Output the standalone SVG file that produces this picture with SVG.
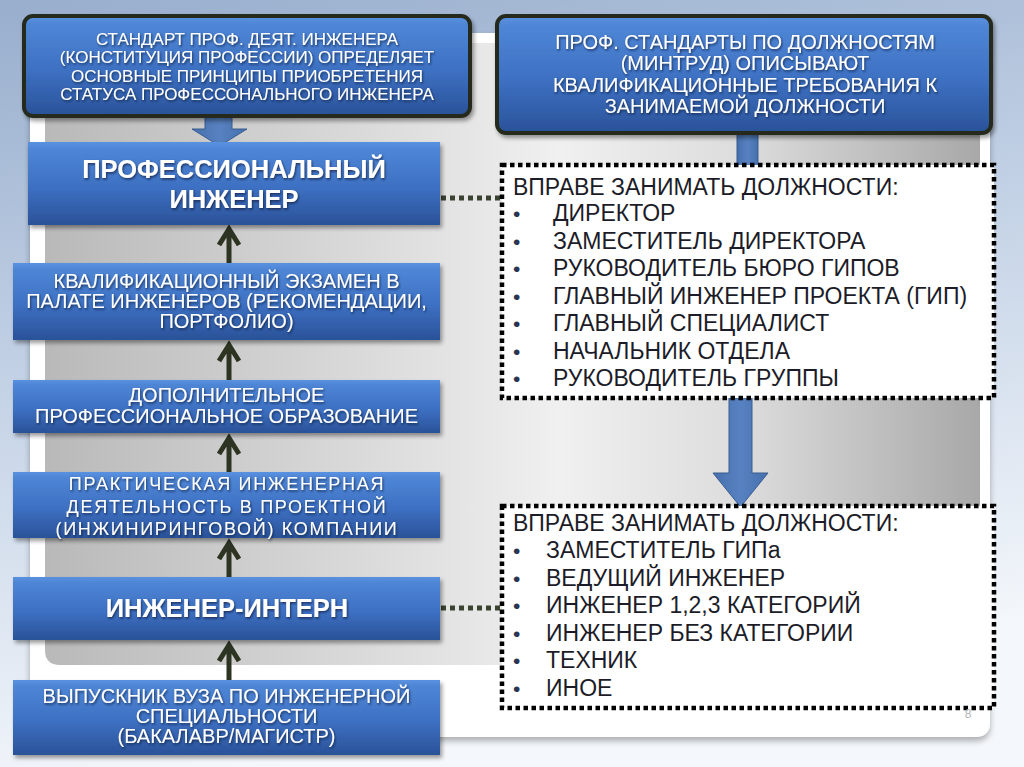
<svg xmlns="http://www.w3.org/2000/svg" width="1024" height="767" viewBox="0 0 1024 767">
<defs>
<linearGradient id="bg" x1="0" y1="0" x2="0.25" y2="1">
<stop offset="0" stop-color="#98aecd"/>
<stop offset="0.5" stop-color="#c6d4e7"/>
<stop offset="1" stop-color="#f4f7fb"/>
</linearGradient>
<linearGradient id="panel" x1="0" y1="0" x2="1" y2="0">
<stop offset="0" stop-color="#b9b9b9"/>
<stop offset="0.4" stop-color="#e0e0e0"/>
<stop offset="0.55" stop-color="#f0f0f0"/>
<stop offset="0.75" stop-color="#dcdcdc"/>
<stop offset="1" stop-color="#a8a8a8"/>
</linearGradient>
<linearGradient id="blue" x1="0" y1="0" x2="0" y2="1">
<stop offset="0" stop-color="#5a92e0"/>
<stop offset="0.08" stop-color="#4f86d6"/>
<stop offset="0.55" stop-color="#3d70c2"/>
<stop offset="1" stop-color="#2a5298"/>
</linearGradient>
<linearGradient id="arrowblue" x1="0" y1="0" x2="1" y2="0">
<stop offset="0" stop-color="#4670ad"/>
<stop offset="0.5" stop-color="#5781c0"/>
<stop offset="1" stop-color="#4670ad"/>
</linearGradient>
<filter id="sh" x="-10%" y="-10%" width="125%" height="135%">
<feDropShadow dx="2" dy="3" stdDeviation="2" flood-color="#000" flood-opacity="0.4"/>
</filter>
<filter id="tsh" x="-5%" y="-20%" width="110%" height="150%">
<feDropShadow dx="1" dy="1.5" stdDeviation="0.8" flood-color="#0a1a3a" flood-opacity="0.75"/>
</filter>
<filter id="cardsh" x="-5%" y="-5%" width="110%" height="110%">
<feDropShadow dx="0" dy="4" stdDeviation="3" flood-color="#000" flood-opacity="0.3"/>
</filter>
</defs>
<style>
.box{fill:url(#blue);filter:url(#sh)}
.bbox{fill:url(#blue);stroke:#262c1e;stroke-width:4;filter:url(#sh)}
.wt{font-family:"Liberation Sans",Arial,sans-serif;fill:#ffffff;text-anchor:middle;filter:url(#tsh)}
.b{font-weight:bold}
.dot{fill:#ffffff;stroke:#000000;stroke-width:4.5;stroke-dasharray:4.5 3.5}
.dt{font-family:"Liberation Sans",Arial,sans-serif;fill:#1c1c28;font-size:23px}
.bul{font-family:"Liberation Sans",Arial,sans-serif;fill:#2a3550;font-size:21px}
.up{fill:none;stroke:#2d3522;stroke-width:5}
.dl{fill:none;stroke:#3a4230;stroke-width:5;stroke-dasharray:5 4}
.ba{fill:url(#arrowblue);stroke:#3a5d92;stroke-width:1}
</style>
<rect x="0" y="0" width="1024" height="767" fill="url(#bg)"/>
<path d="M30,33 H990 V722 Q990,737 975,737 H30 Z" fill="#ffffff" filter="url(#cardsh)"/>
<path d="M45,43 H980 V665 H60 Q45,665 45,650 Z" fill="url(#panel)"/>

<g id="connectors">
<path class="ba" d="M205,117 H232 V129 H247 L219.5,146 L192,129 H205 Z"/>
<rect class="ba" x="737" y="134" width="21" height="32"/>
<path class="ba" d="M729,398 H752 V473 H768 L740.5,507 L713,473 H729 Z"/>
<path class="up" d="M229,263 V229 M219,245 L229,229 L239,245"/>
<path class="up" d="M229,380 V345 M219,361 L229,345 L239,361"/>
<path class="up" d="M229,472 V438 M219,454 L229,438 L239,454"/>
<path class="up" d="M229,577 V543 M219,559 L229,543 L239,559"/>
<path class="up" d="M229,680 V645 M219,661 L229,645 L239,661"/>
<path class="dl" d="M441,198 H502"/>
<path class="dl" d="M441,608 H502"/>
</g>

<g id="n-standard">
<rect class="bbox" x="24" y="16" width="446" height="100" rx="9"/>
<text class="wt" font-size="17" x="247" y="45">СТАНДАРТ ПРОФ. ДЕЯТ. ИНЖЕНЕРА</text>
<text class="wt" font-size="17" x="247" y="63">(КОНСТИТУЦИЯ ПРОФЕССИИ) ОПРЕДЕЛЯЕТ</text>
<text class="wt" font-size="17" x="247" y="82">ОСНОВНЫЕ ПРИНЦИПЫ ПРИОБРЕТЕНИЯ</text>
<text class="wt" font-size="17" x="247" y="100">СТАТУСА ПРОФЕССОНАЛЬНОГО ИНЖЕНЕРА</text>
</g>

<g id="n-profstandards">
<rect class="bbox" x="497" y="16" width="494" height="117" rx="9"/>
<text class="wt" font-size="20" x="745" y="49">ПРОФ. СТАНДАРТЫ ПО ДОЛЖНОСТЯМ</text>
<text class="wt" font-size="20" x="745" y="70">(МИНТРУД) ОПИСЫВАЮТ</text>
<text class="wt" font-size="20" x="745" y="92">КВАЛИФИКАЦИОННЫЕ ТРЕБОВАНИЯ К</text>
<text class="wt" font-size="20" x="745" y="113">ЗАНИМАЕМОЙ ДОЛЖНОСТИ</text>
</g>

<g id="n-prof-engineer">
<rect class="box" x="28" y="142" width="412" height="83"/>
<text class="wt b" font-size="25.5" x="234" y="178">ПРОФЕССИОНАЛЬНЫЙ</text>
<text class="wt b" font-size="25.5" x="234" y="208">ИНЖЕНЕР</text>
</g>

<g id="n-exam">
<rect class="box" x="13" y="263" width="427" height="77"/>
<text class="wt" font-size="20" x="226.5" y="288">КВАЛИФИКАЦИОННЫЙ ЭКЗАМЕН В</text>
<text class="wt" font-size="20" x="226.5" y="308">ПАЛАТЕ ИНЖЕНЕРОВ (РЕКОМЕНДАЦИИ,</text>
<text class="wt" font-size="20" x="226.5" y="328">ПОРТФОЛИО)</text>
</g>

<g id="n-additional">
<rect class="box" x="13" y="380" width="427" height="53"/>
<text class="wt" font-size="20" x="226.5" y="402">ДОПОЛНИТЕЛЬНОЕ</text>
<text class="wt" font-size="20" x="226.5" y="423">ПРОФЕССИОНАЛЬНОЕ ОБРАЗОВАНИЕ</text>
</g>

<g id="n-practice">
<rect class="box" x="13" y="472" width="427" height="66"/>
<text class="wt" font-size="18" letter-spacing="1.7" x="227" y="490">ПРАКТИЧЕСКАЯ ИНЖЕНЕРНАЯ</text>
<text class="wt" font-size="18" letter-spacing="1.7" x="227" y="513">ДЕЯТЕЛЬНОСТЬ В ПРОЕКТНОЙ</text>
<text class="wt" font-size="18" letter-spacing="1.7" x="227" y="535">(ИНЖИНИРИНГОВОЙ) КОМПАНИИ</text>
</g>

<g id="n-intern">
<rect class="box" x="13" y="577" width="427" height="63"/>
<text class="wt b" font-size="25.5" x="227" y="617">ИНЖЕНЕР-ИНТЕРН</text>
</g>

<g id="n-graduate">
<rect class="box" x="13" y="680" width="427" height="75"/>
<text class="wt" font-size="20" x="226.5" y="703">ВЫПУСКНИК ВУЗА ПО ИНЖЕНЕРНОЙ</text>
<text class="wt" font-size="20" x="226.5" y="723">СПЕЦИАЛЬНОСТИ</text>
<text class="wt" font-size="20" x="226.5" y="743">(БАКАЛАВР/МАГИСТР)</text>
</g>

<g id="n-positions-senior">
<rect class="dot" x="502" y="165" width="492" height="233"/>
<text class="dt" x="513" y="195">ВПРАВЕ ЗАНИМАТЬ ДОЛЖНОСТИ:</text>
<text class="bul" x="513" y="221">•</text>
<text class="dt" x="553" y="221">ДИРЕКТОР</text>
<text class="bul" x="513" y="249">•</text>
<text class="dt" x="553" y="249">ЗАМЕСТИТЕЛЬ ДИРЕКТОРА</text>
<text class="bul" x="513" y="276">•</text>
<text class="dt" x="553" y="276">РУКОВОДИТЕЛЬ БЮРО ГИПОВ</text>
<text class="bul" x="513" y="304">•</text>
<text class="dt" x="553" y="304">ГЛАВНЫЙ ИНЖЕНЕР ПРОЕКТА (ГИП)</text>
<text class="bul" x="513" y="331">•</text>
<text class="dt" x="553" y="331">ГЛАВНЫЙ СПЕЦИАЛИСТ</text>
<text class="bul" x="513" y="359">•</text>
<text class="dt" x="553" y="359">НАЧАЛЬНИК ОТДЕЛА</text>
<text class="bul" x="513" y="386">•</text>
<text class="dt" x="553" y="386">РУКОВОДИТЕЛЬ ГРУППЫ</text>
</g>

<g id="n-positions-junior">
<rect class="dot" x="502" y="506" width="492" height="202"/>
<text class="dt" x="513" y="531">ВПРАВЕ ЗАНИМАТЬ ДОЛЖНОСТИ:</text>
<text class="bul" x="513" y="558">•</text>
<text class="dt" x="546" y="558">ЗАМЕСТИТЕЛЬ ГИПа</text>
<text class="bul" x="513" y="586">•</text>
<text class="dt" x="546" y="586">ВЕДУЩИЙ ИНЖЕНЕР</text>
<text class="bul" x="513" y="613">•</text>
<text class="dt" x="546" y="613">ИНЖЕНЕР 1,2,3 КАТЕГОРИЙ</text>
<text class="bul" x="513" y="641">•</text>
<text class="dt" x="546" y="641">ИНЖЕНЕР БЕЗ КАТЕГОРИИ</text>
<text class="bul" x="513" y="668">•</text>
<text class="dt" x="546" y="668">ТЕХНИК</text>
<text class="bul" x="513" y="696">•</text>
<text class="dt" x="546" y="696">ИНОЕ</text>
</g>

<text x="968" y="718" font-family="Liberation Sans, Arial, sans-serif" font-size="12" fill="#b5b5b5" text-anchor="middle">8</text>
</svg>
